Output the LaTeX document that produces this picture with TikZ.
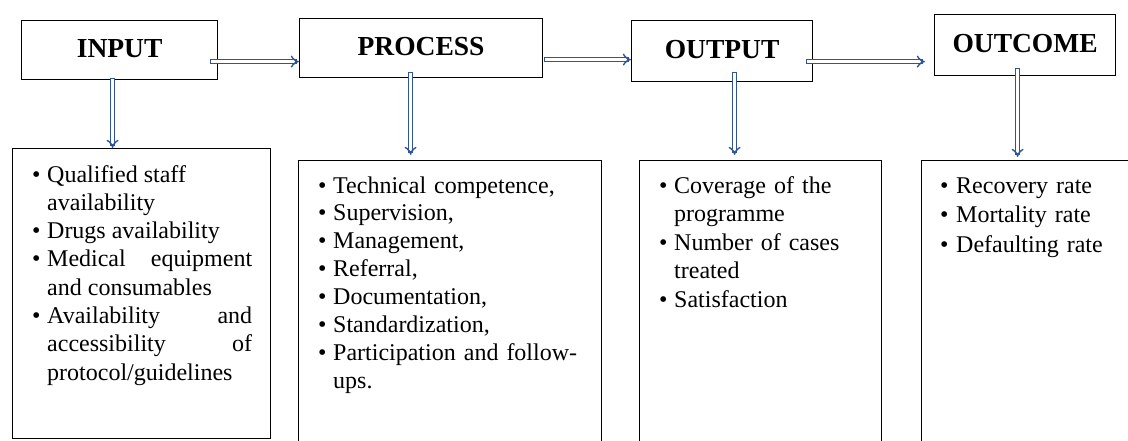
\documentclass[tikz,border=0pt]{standalone}
\usepackage{fontspec}
\setmainfont{Liberation Serif}
\usetikzlibrary{arrows.meta}
\definecolor{arrblue}{HTML}{2F5597}
\newcommand\bitem[2][16pt]{\hangindent=#1\hangafter=1\noindent\makebox[#1][l]{\kern1pt\textbullet}#2\par}
\begin{document}
\begin{tikzpicture}[x=1pt,y=-1pt,
  title/.style={draw, line width=1.2pt, inner sep=0pt, anchor=north west,
    font=\fontsize{27.5}{30}\selectfont\bfseries, text height=19pt, text depth=5pt},
  box/.style={draw, line width=1.2pt, inner sep=0pt, anchor=north west},
  list/.style={inner sep=0pt, anchor=base west},
  arr/.style={draw=arrblue, line width=1.4pt, double=white, double distance=2.6pt, line cap=rect, -{Implies}}]
\useasboundingbox (0,0) rectangle (1128,440);
\clip (0,0) rectangle (1128,440);
% top boxes
\node[title, minimum width=196pt, minimum height=59pt] (inp) at (21,20) {INPUT};
\node[title, minimum width=243pt, minimum height=59pt] (proc) at (299,18) {PROCESS};
\node[title, minimum width=181pt, minimum height=61pt] (out) at (631,20) {OUTPUT};
\node[title, minimum width=181pt, minimum height=61pt] (outc) at (934,14) {OUTCOME};
% bottom boxes
\node[box, minimum width=258pt, minimum height=290pt] (b1) at (12,148) {};
\node[box, minimum width=303pt, minimum height=300pt] (b2) at (298,160) {};
\node[box, minimum width=242pt, minimum height=300pt] (b3) at (639,160) {};
\node[box, minimum width=230pt, minimum height=300pt] (b4) at (921,160) {};
% lists
\node[list, text width=221pt, align=justify, font=\fontsize{24}{28.3}\selectfont] (t1) at (31,182)
  {\bitem{Qualified staff\newline availability}%
   \bitem{Drugs availability}%
   \bitem{Medical equipment\linebreak and consumables}%
   \bitem{Availability and\linebreak accessibility of\linebreak protocol/guidelines}};
\node[list, text width=270pt, font=\fontsize{24}{27.9}\selectfont] (t2) at (317,193)
  {\raggedright
   \bitem{Technical competence,}%
   \bitem{Supervision,}%
   \bitem{Management,}%
   \bitem{Referral,}%
   \bitem{Documentation,}%
   \bitem{Standardization,}%
   \bitem{Participation and follow-\newline ups.}};
\node[list, text width=210pt, font=\fontsize{24}{28.5}\selectfont] (t3) at (658,193)
  {\raggedright
   \bitem{Coverage of the\newline programme}%
   \bitem{Number of cases\newline treated}%
   \bitem{Satisfaction}};
\node[list, text width=180pt, font=\fontsize{24}{29.5}\selectfont] (t4) at (939,193)
  {\raggedright
   \bitem[17pt]{Recovery rate}%
   \bitem[17pt]{Mortality rate}%
   \bitem[17pt]{Defaulting rate}};
% horizontal arrows
\coordinate (a1) at ([xshift=-6pt,yshift=-11.5pt]inp.east);
\coordinate (a2) at ([xshift=3pt,yshift=-11.5pt]proc.east);
\coordinate (a3) at ([xshift=-5pt,yshift=-10.5pt]out.east);
\draw[arr] (a1) -- (a1 -| proc.west);
\draw[arr] (a2) -- (a2 -| out.west);
\draw[arr, shorten >=9pt] (a3) -- (a3 -| outc.west);
% vertical arrows
\coordinate (v1) at ([xshift=-7pt]inp.south);
\coordinate (v2) at ([xshift=-10.5pt,yshift=4pt]proc.south);
\coordinate (v3) at ([xshift=12.5pt,yshift=8pt]out.south);
\coordinate (v4) at ([xshift=-7.5pt,yshift=6pt]outc.south);
\draw[arr] (v1) -- (v1 |- b1.north);
\draw[arr, shorten >=5pt] (v2) -- (v2 |- b2.north);
\draw[arr, shorten >=5pt] (v3) -- (v3 |- b3.north);
\draw[arr, shorten >=3pt] (v4) -- (v4 |- b4.north);
\end{tikzpicture}
\end{document}
